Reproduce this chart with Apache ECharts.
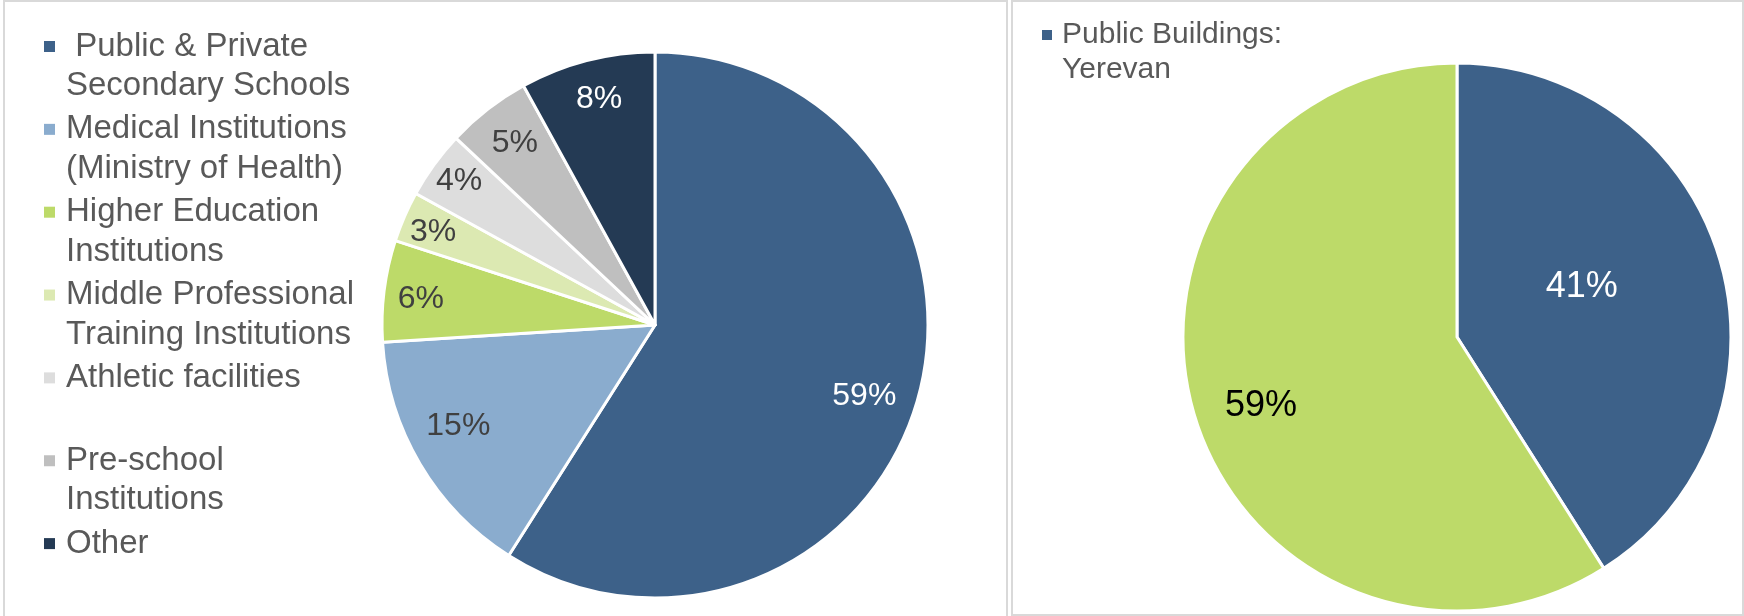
<!DOCTYPE html>
<html>
<head>
<meta charset="utf-8">
<script src="https://cdn.jsdelivr.net/npm/echarts@6/dist/echarts.min.js"></script>
<style>
  html, body { margin: 0; padding: 0; background: #ffffff; }
  #chart { width: 1744px; height: 616px; }
</style>
</head>
<body>
<div id="chart"></div>
<script>
// Public building stock by type (left) and the Yerevan share of public buildings (right)
const categories = [
  'Public & Private Secondary Schools',
  'Medical Institutions (Ministry of Health)',
  'Higher Education Institutions',
  'Middle Professional Training Institutions',
  'Athletic facilities',
  'Pre-school Institutions',
  'Other'
];
// legend wording, wrapped the way it sits in the legend column
const legendLines = [
  ' Public & Private\nSecondary Schools',
  'Medical Institutions\n(Ministry of Health)',
  'Higher Education\nInstitutions',
  'Middle Professional\nTraining Institutions',
  'Athletic facilities\n ',
  'Pre-school\nInstitutions',
  'Other\n '
];
const shares = [59, 15, 6, 3, 4, 5, 8];

const cityCategories = ['Public Buildings: Yerevan', 'Public Buildings: Regions'];
const cityLegendLines = ['Public Buildings:\nYerevan'];
const cityShares = [41, 59];

// ---- styling ----
const FONT = "'Liberation Sans', Arial, Helvetica, sans-serif";
const sliceColors = ['#3D6189', '#8AACCE', '#BDDA69', '#DCE9B2', '#DDDDDD', '#BFBFBF', '#243A54'];
const labelColors = ['#FFFFFF', '#404040', '#404040', '#404040', '#404040', '#404040', '#FFFFFF'];
// where each value label sits: fraction of the radius, and a small clockwise turn (degrees)
const labelReach = [0.81, 0.81, 0.863, 0.882, 0.889, 0.84, 0.853];
const labelTurn = [2.6, 3.4, -0.8, -0.6, 0.2, 0.1, 0.5];

const citySliceColors = ['#3D6189', '#BDDA69'];
const cityLabelColors = ['#FFFFFF', '#000000'];
const cityLabelReach = [0.49, 0.759];
const cityLabelTurn = [-5.6, -3.3];

const LEFT_PIE = { cx: 655, cy: 325, r: 273 };
const RIGHT_PIE = { cx: 1457, cy: 337, r: 274 };

// ECharts puts an inside label at half the radius on the slice bisector;
// move it along the radius and turn it slightly around the centre
function placeLabel(pie, reach, turn) {
  return function (p) {
    const rect = p.labelRect;
    const lx = rect.x + rect.width / 2;
    const ly = rect.y + rect.height / 2;
    const a = Math.atan2(ly - pie.cy, lx - pie.cx) + turn[p.dataIndex] * Math.PI / 180;
    const rr = reach[p.dataIndex] * pie.r;
    return { dx: pie.cx + rr * Math.cos(a) - lx, dy: pie.cy + rr * Math.sin(a) - ly };
  };
}

function buildData(names, values, colors, textColors) {
  return names.map((name, i) => ({
    name: name,
    value: values[i],
    itemStyle: { color: colors[i] },
    label: { color: textColors[i] }
  }));
}

// a blank first line keeps the legend square level with the first line of text
function legendText(names, lines) {
  return name => '\n' + lines[names.indexOf(name)];
}

const chart = echarts.init(document.getElementById('chart'), null, { renderer: 'canvas' });

const LEFT_LH = 39.5;
const RIGHT_LH = 34.3;

chart.setOption({
  animation: false,
  backgroundColor: '#ffffff',
  textStyle: { fontFamily: FONT },
  graphic: [
    { type: 'rect', z: -10, shape: { x: 4, y: 1, width: 1003, height: 700 },
      style: { fill: 'none', stroke: '#D9D9D9', lineWidth: 2 }, silent: true },
    { type: 'rect', z: -10, shape: { x: 1012, y: 1, width: 731, height: 614 },
      style: { fill: 'none', stroke: '#D9D9D9', lineWidth: 2 }, silent: true }
  ],
  legend: [
    {
      orient: 'vertical',
      left: 44,
      top: 46.5 - 1.5 * LEFT_LH,
      padding: 0,
      itemWidth: 11,
      itemHeight: 11,
      itemGap: 82.85 - 3 * LEFT_LH,
      icon: 'rect',
      selectedMode: false,
      itemStyle: { borderWidth: 0 },
      data: categories,
      formatter: legendText(categories, legendLines),
      textStyle: {
        fontFamily: FONT, fontSize: 33, lineHeight: LEFT_LH, color: '#595959',
        padding: [0, 0, 0, 6]
      }
    },
    {
      orient: 'vertical',
      left: 1042,
      top: 35 - 1.5 * RIGHT_LH,
      padding: 0,
      itemWidth: 10,
      itemHeight: 10,
      icon: 'rect',
      selectedMode: false,
      itemStyle: { borderWidth: 0 },
      data: [cityCategories[0]],
      formatter: legendText(cityCategories, cityLegendLines),
      textStyle: {
        fontFamily: FONT, fontSize: 30, lineHeight: RIGHT_LH, color: '#595959',
        padding: [0, 0, 0, 5]
      }
    }
  ],
  series: [
    {
      type: 'pie',
      center: [LEFT_PIE.cx, LEFT_PIE.cy],
      radius: LEFT_PIE.r,
      startAngle: 90,
      clockwise: true,
      silent: true,
      itemStyle: { borderColor: '#FFFFFF', borderWidth: 3 },
      label: {
        show: true, position: 'inside', formatter: '{c}%',
        fontFamily: FONT, fontSize: 32
      },
      labelLine: { show: false },
      emphasis: { disabled: true },
      labelLayout: placeLabel(LEFT_PIE, labelReach, labelTurn),
      data: buildData(categories, shares, sliceColors, labelColors)
    },
    {
      type: 'pie',
      center: [RIGHT_PIE.cx, RIGHT_PIE.cy],
      radius: RIGHT_PIE.r,
      startAngle: 90,
      clockwise: true,
      silent: true,
      itemStyle: { borderColor: '#FFFFFF', borderWidth: 3 },
      label: {
        show: true, position: 'inside', formatter: '{c}%',
        fontFamily: FONT, fontSize: 36
      },
      labelLine: { show: false },
      emphasis: { disabled: true },
      labelLayout: placeLabel(RIGHT_PIE, cityLabelReach, cityLabelTurn),
      data: buildData(cityCategories, cityShares, citySliceColors, cityLabelColors)
    }
  ]
});
</script>
</body>
</html>
